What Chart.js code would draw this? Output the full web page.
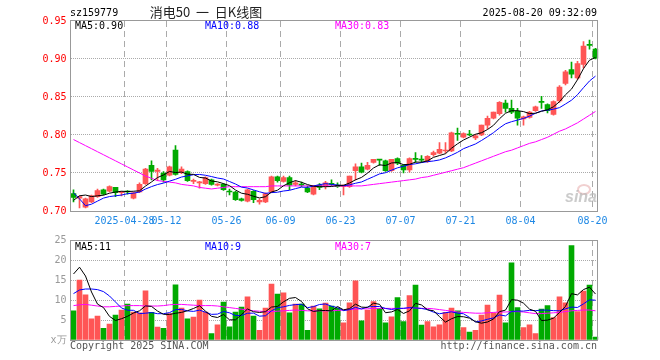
<!DOCTYPE html>
<html><head><meta charset="utf-8">
<script src="https://cdn.jsdelivr.net/npm/chart.js@4.4.1/dist/chart.umd.min.js"></script>
<style>
html,body{margin:0;padding:0;background:#fff;}
#wrap{position:relative;width:660px;height:360px;overflow:hidden;background:#fff;}
canvas{position:absolute;left:0;top:0;}
.t{position:absolute;white-space:pre;font:10px/12px "DejaVu Sans Mono",monospace;color:#000;}
</style></head><body>
<div id="wrap">
<canvas id="k" width="660" height="360"></canvas>
<canvas id="v" width="660" height="360"></canvas>
<div class="t" style="left:70px;top:7px;">sz159779</div>
<div class="t" style="left:206px;top:4px;transform:translateX(-50%);font:13px/16px 'Noto Sans CJK SC',sans-serif;color:#222;">消电50  一  日K线图</div>
<div class="t" style="right:63px;top:7px;">2025-08-20 09:32:09</div>
<div class="t" style="left:75px;top:20px;">MA5:0.90</div>
<div class="t" style="left:205px;top:20px;color:#0000ff;">MA10:0.88</div>
<div class="t" style="left:335px;top:20px;color:#ff00ff;">MA30:0.83</div>
<div class="t" style="left:75px;top:241px;">MA5:11</div>
<div class="t" style="left:205px;top:241px;color:#0000ff;">MA10:9</div>
<div class="t" style="left:335px;top:241px;color:#ff00ff;">MA30:7</div>
<div class="t" style="left:70px;top:340px;color:#555;">Copyright 2025 SINA.COM</div>
<div class="t" style="right:63px;top:340px;color:#555;">http://finance.sina.com.cn</div>
<div style="position:absolute;left:577px;top:184px;width:10px;height:7px;border:2px solid rgba(225,150,150,0.45);border-radius:50%;"></div>
<div class="t" style="left:565px;top:189px;font:italic bold 16px/16px 'Liberation Sans',sans-serif;color:rgba(185,185,185,0.75);">sina</div>
</div>
<script>
const YEAR = '2025';
const dates = ['04-15','04-16','04-17','04-18','04-21','04-22','04-23','04-24','04-25','04-28','04-29','04-30',
'05-06','05-07','05-08','05-09','05-12','05-13','05-14','05-15','05-16','05-19','05-20','05-21','05-22','05-23','05-26','05-27','05-28','05-29','05-30',
'06-03','06-04','06-05','06-06','06-09','06-10','06-11','06-12','06-13','06-16','06-17','06-18','06-19','06-20','06-23','06-24','06-25','06-26','06-27','06-30',
'07-01','07-02','07-03','07-04','07-07','07-08','07-09','07-10','07-11','07-14','07-15','07-16','07-17','07-18','07-21','07-22','07-23','07-24','07-25','07-28','07-29','07-30','07-31',
'08-01','08-04','08-05','08-06','08-07','08-08','08-11','08-12','08-13','08-14','08-15','08-18','08-19','08-20'];
const tickDates = ['04-28','05-12','05-26','06-09','06-23','07-07','07-21','08-04','08-20'];
const tickText = ['2025-04-28','05-12','05-26','06-09','06-23','07-07','07-21','08-04','08-20'];

const open = [0.723,0.717,0.705,0.712,0.719,0.728,0.726,0.731,0.724,0.726,
0.717,0.725,0.736,0.760,0.752,0.750,0.747,0.780,0.751,0.752,
0.739,0.737,0.736,0.741,0.734,0.735,0.726,0.725,0.716,0.713,
0.726,0.712,0.712,0.725,0.745,0.739,0.744,0.735,0.735,0.730,
0.722,0.734,0.733,0.736,0.734,0.732,0.732,0.753,0.758,0.755,
0.764,0.768,0.766,0.753,0.769,0.760,0.754,0.769,0.768,0.765,
0.774,0.776,0.779,0.779,0.802,0.797,0.801,0.796,0.800,0.813,
0.822,0.828,0.842,0.835,0.831,0.821,0.823,0.832,0.844,0.840,
0.827,0.845,0.868,0.886,0.875,0.893,0.919,0.913];
const high = [0.728,0.720,0.717,0.721,0.729,0.729,0.733,0.731,0.726,0.727,
0.725,0.737,0.756,0.766,0.756,0.752,0.759,0.786,0.758,0.753,
0.742,0.739,0.745,0.742,0.736,0.736,0.729,0.726,0.717,0.729,
0.727,0.716,0.724,0.746,0.746,0.746,0.746,0.740,0.738,0.733,
0.733,0.736,0.739,0.741,0.737,0.734,0.746,0.762,0.763,0.764,
0.768,0.768,0.767,0.768,0.770,0.761,0.770,0.777,0.773,0.773,
0.779,0.790,0.790,0.804,0.809,0.803,0.806,0.801,0.813,0.825,
0.830,0.844,0.846,0.846,0.835,0.825,0.831,0.838,0.851,0.841,
0.845,0.865,0.885,0.896,0.897,0.923,0.925,0.914];
const low = [0.712,0.704,0.704,0.711,0.718,0.721,0.725,0.719,0.720,0.722,
0.716,0.724,0.735,0.741,0.740,0.738,0.746,0.747,0.749,0.739,
0.736,0.730,0.735,0.734,0.733,0.727,0.721,0.714,0.713,0.712,
0.711,0.709,0.711,0.724,0.738,0.738,0.728,0.733,0.732,0.724,
0.721,0.728,0.729,0.733,0.731,0.721,0.731,0.741,0.750,0.754,
0.763,0.760,0.752,0.752,0.761,0.750,0.751,0.764,0.764,0.764,
0.772,0.775,0.776,0.778,0.793,0.796,0.799,0.794,0.799,0.808,
0.821,0.826,0.830,0.828,0.813,0.813,0.822,0.831,0.835,0.829,
0.826,0.843,0.866,0.875,0.873,0.888,0.913,0.900];
const close = [0.718,0.719,0.716,0.720,0.727,0.722,0.732,0.724,0.725,0.725,
0.724,0.735,0.755,0.752,0.754,0.741,0.758,0.748,0.755,0.740,
0.740,0.738,0.744,0.735,0.735,0.728,0.725,0.715,0.714,0.728,
0.715,0.714,0.723,0.745,0.740,0.744,0.734,0.737,0.734,0.725,
0.733,0.731,0.737,0.735,0.732,0.734,0.746,0.758,0.751,0.760,
0.768,0.767,0.753,0.768,0.763,0.754,0.769,0.768,0.767,0.772,
0.777,0.781,0.780,0.803,0.801,0.802,0.800,0.799,0.813,0.822,
0.830,0.843,0.835,0.830,0.822,0.824,0.830,0.837,0.843,0.832,
0.844,0.863,0.883,0.880,0.894,0.917,0.918,0.901];

const ma5 = [0.714,0.720,0.721,0.719,0.720,0.7208,0.7234,0.725,0.726,0.7256,
0.726,0.7266,0.7328,0.7382,0.744,0.7474,0.752,0.7506,0.7512,0.7484,
0.7482,0.7442,0.7434,0.7394,0.7384,0.736,0.7334,0.7276,0.7234,0.722,
0.7194,0.7172,0.7188,0.725,0.7274,0.7332,0.7372,0.74,0.7378,0.7348,
0.7326,0.732,0.732,0.7322,0.7336,0.7338,0.7368,0.741,0.7442,0.7498,
0.7566,0.7608,0.7598,0.7632,0.7638,0.761,0.7614,0.7644,0.7642,0.766,
0.7706,0.773,0.7754,0.7826,0.7884,0.7934,0.7972,0.801,0.803,0.8072,
0.8128,0.8214,0.8286,0.832,0.832,0.8308,0.8282,0.8286,0.8312,0.8332,
0.8372,0.8438,0.853,0.8604,0.8728,0.8874,0.8984,0.902];
const ma10 = [0.724,0.716,0.707,0.709,0.713,0.717,0.719,0.720,0.721,0.7228,
0.7234,0.725,0.7289,0.7321,0.7348,0.7367,0.7393,0.7417,0.7447,0.7462,
0.7478,0.7481,0.747,0.7453,0.7434,0.7421,0.7388,0.7355,0.7314,0.7302,
0.7277,0.7253,0.7232,0.7242,0.7247,0.7263,0.7272,0.7294,0.7314,0.7311,
0.7329,0.7346,0.736,0.735,0.7342,0.7332,0.7344,0.7365,0.7382,0.7417,
0.7452,0.7488,0.7504,0.7537,0.7568,0.7588,0.7611,0.7621,0.7637,0.7649,
0.7658,0.7672,0.7699,0.7734,0.7772,0.782,0.7851,0.7882,0.7928,0.7978,
0.8031,0.8093,0.8148,0.8175,0.8196,0.8218,0.8248,0.8286,0.8316,0.8326,
0.834,0.836,0.8408,0.8458,0.853,0.8623,0.8711,0.8775];
const ma30 = [0.794,0.790,0.786,0.782,0.778,0.774,0.770,0.766,0.762,0.758,
0.754,0.750,0.746,0.743,0.740,0.739,0.738,0.737,0.735,0.734,
0.733,0.731,0.730,0.729,0.730,0.731,0.732,0.732,0.732,0.732,
0.732,0.732,0.732,0.733,0.733,0.733,0.733,0.733,0.733,0.733,
0.733,0.733,0.733,0.733,0.733,0.733,0.733,0.733,0.733,0.734,
0.735,0.736,0.737,0.738,0.739,0.740,0.741,0.742,0.744,0.745,
0.747,0.749,0.751,0.753,0.755,0.757,0.760,0.763,0.766,0.769,
0.772,0.775,0.778,0.780,0.783,0.786,0.789,0.791,0.794,0.797,
0.801,0.805,0.808,0.812,0.816,0.821,0.826,0.831];

const volume = [7.3,15,11.3,5.3,6,2.9,4,6.2,7.5,9,
7,6.8,12.3,6.9,3.2,2.9,6.6,13.8,8,5.3,
5.7,10,7,1.6,3.8,9.5,3.3,7,8.2,10.8,
6,2.4,8,14,11.5,11.8,6.8,9,9,2.4,
8.5,7.8,9.2,8.5,7.9,4.3,9.3,14.8,4.8,7.5,
9.6,7.9,4.3,5.8,10.6,4.6,11.1,13.75,3.75,4.6,
3.3,3.8,6.9,8,7.3,3.1,2,2.4,6.25,8.75,
6.8,11.25,4.3,19.3,8.1,3.1,3.8,1.6,7.75,8.6,
5.6,10.8,9.3,23.6,7.1,12.25,13.75,0.75];
const vma5 = [16.5,18.2,16.0,12.0,8.98,8.1,5.9,4.88,5.32,5.92,
6.74,7.3,8.52,8.4,7.24,6.42,6.38,6.68,6.9,7.32,
7.88,8.56,7.2,5.92,5.62,6.38,5.04,5.04,6.36,7.76,
7.06,6.88,7.08,8.24,8.38,9.54,10.42,10.62,9.62,7.8,
7.14,7.34,7.38,7.28,8.38,7.54,7.84,8.96,8.22,8.14,
9.2,8.92,6.82,7.02,7.64,6.64,7.28,9.17,8.76,7.56,
7.3,5.84,4.47,5.32,5.86,5.82,5.46,4.56,4.21,4.5,
5.24,7.09,7.47,10.08,9.95,9.21,7.72,7.18,4.87,4.97,
5.47,6.87,8.41,11.58,11.28,12.61,13.2,11.49];
const vma10 = [11.6,12.5,12.75,12.75,12.6,12.1,11.0,9.5,8.0,7.45,
7.42,6.6,6.7,6.86,6.58,6.58,6.84,7.6,7.65,7.28,
7.15,7.47,6.94,6.41,6.47,7.13,6.8,6.12,6.14,6.69,
6.72,5.96,6.06,7.3,8.07,8.3,8.65,8.85,8.93,8.09,
8.34,8.88,9.0,8.45,8.09,7.34,7.59,8.17,7.75,8.26,
8.37,8.38,7.89,7.62,7.89,7.92,8.1,8.0,7.89,7.6,
6.97,6.56,6.82,7.04,6.71,6.56,5.65,4.52,4.77,5.18,
5.53,6.28,6.02,7.15,7.23,7.23,7.41,7.33,7.48,7.46,
7.34,7.3,7.8,8.23,8.13,9.04,10.04,9.95];
const vma30 = [8.6,8.8,8.9,8.7,8.5,8.3,8.3,8.4,8.5,8.6,
8.6,8.6,8.5,8.5,8.5,8.6,8.8,8.9,8.9,8.8,
8.7,8.6,8.6,8.6,8.5,8.3,8.1,7.9,7.7,7.5,
7.3,7.2,7.1,7.1,7.2,7.3,7.4,7.5,7.4,7.3,
7.3,7.3,7.3,7.3,7.4,7.5,7.6,7.7,7.8,7.8,
7.9,7.9,7.9,7.9,7.9,7.9,8.0,8.0,7.9,7.9,
7.8,7.6,7.4,7.2,7.0,6.9,6.8,6.7,6.7,6.8,
6.9,7.0,7.0,7.1,7.1,7.0,6.8,6.6,6.6,6.7,
6.8,6.9,7.1,7.3,7.4,7.5,7.5,7.3];

const UP = '#ff5555', DOWN = '#00aa00';
const colors = close.map((c, i) => c >= open[i] ? UP : DOWN);
const bodies = open.map((o, i) => [o, close[i]]);
const wicks = low.map((l, i) => [l, high[i]]);

const MONO = {family: 'DejaVu Sans Mono', size: 10};
const xGridColor = c => (c.type === 'tick' && tickDates.includes(dates[c.index])) ? '#aaaaaa' : 'rgba(0,0,0,0)';

function framePlugin(x1, y1, x2, y2) {
  return {
    id: 'frame',
    afterDraw(chart) {
      const ctx = chart.ctx;
      ctx.save();
      ctx.strokeStyle = '#999999';
      ctx.lineWidth = 1;
      ctx.setLineDash([]);
      ctx.strokeRect(x1, y1, x2 - x1, y2 - y1);
      ctx.restore();
    }
  };
}

function lineDs(data, color, order) {
  return {type: 'line', data, borderColor: color, borderWidth: 1, pointRadius: 0, tension: 0, fill: false, order};
}

const common = {
  responsive: false, animation: false, events: [],
  plugins: {legend: {display: false}, tooltip: {enabled: false}},
};

new Chart(document.getElementById('k'), {
  type: 'bar',
  data: {
    labels: dates,
    datasets: [
      lineDs(ma5, '#000000', 0),
      lineDs(ma10, '#0000ff', 1),
      lineDs(ma30, '#ff00ff', 2),
      {data: bodies, backgroundColor: colors, barThickness: 5, minBarLength: 1, grouped: false, order: 3},
      {data: wicks, backgroundColor: colors, barThickness: 1, minBarLength: 1, grouped: false, order: 4}
    ]
  },
  options: Object.assign({}, common, {
    layout: {padding: {left: 0.5, right: 61.5, top: 21, bottom: 0}},
    scales: {
      x: {
        offset: true,
        grid: {offset: true, drawTicks: false, color: xGridColor, lineWidth: 1},
        border: {display: false, dash: [6, 4]},
        ticks: {
          autoSkip: false, maxRotation: 0, minRotation: 0, padding: 4, labelOffset: -3,
          color: '#1e88e5', font: MONO,
          callback: (v, i) => { const k = tickDates.indexOf(dates[i]); return k >= 0 ? tickText[k] : ''; }
        },
        afterFit: s => { s.height = 149; }
      },
      y: {
        min: 0.70, max: 0.95,
        grid: {drawTicks: false, color: c => (c.tick && (Math.abs(c.tick.value - 0.95) < 1e-6 || Math.abs(c.tick.value - 0.70) < 1e-6)) ? 'rgba(0,0,0,0)' : '#aaaaaa'},
        border: {display: false, dash: [1, 1]},
        ticks: {stepSize: 0.05, padding: 4, color: '#ff0000', font: MONO, callback: v => Number(v).toFixed(2)},
        afterFit: s => { s.width = 70; }
      }
    }
  }),
  plugins: [framePlugin(70.5, 20.5, 597.5, 211.5)]
});

new Chart(document.getElementById('v'), {
  type: 'bar',
  data: {
    labels: dates,
    datasets: [
      lineDs(vma5, '#000000', 0),
      lineDs(vma10, '#0000ff', 1),
      lineDs(vma30, '#ff00ff', 2),
      {data: volume, backgroundColor: colors, barThickness: 5, grouped: false, order: 3}
    ]
  },
  options: Object.assign({}, common, {
    layout: {padding: {left: 0.5, right: 61.5, top: 240, bottom: 0}},
    scales: {
      x: {
        offset: true,
        grid: {offset: true, drawTicks: false, color: xGridColor, lineWidth: 1},
        border: {display: false, dash: [6, 4]},
        ticks: {display: false, autoSkip: false, maxRotation: 0, minRotation: 0},
        afterFit: s => { s.height = 20; }
      },
      y: {
        min: 0, max: 25,
        grid: {drawTicks: false, color: c => (c.tick && (c.tick.value === 0 || c.tick.value === 25)) ? 'rgba(0,0,0,0)' : '#aaaaaa'},
        border: {display: false, dash: [1, 1]},
        ticks: {stepSize: 5, padding: 4, color: '#999999', font: MONO, callback: v => v === 0 ? 'x万' : String(v)},
        afterFit: s => { s.width = 70; }
      }
    }
  }),
  plugins: [framePlugin(70.5, 240.5, 597.5, 340.5)]
});
</script>
</body></html>
